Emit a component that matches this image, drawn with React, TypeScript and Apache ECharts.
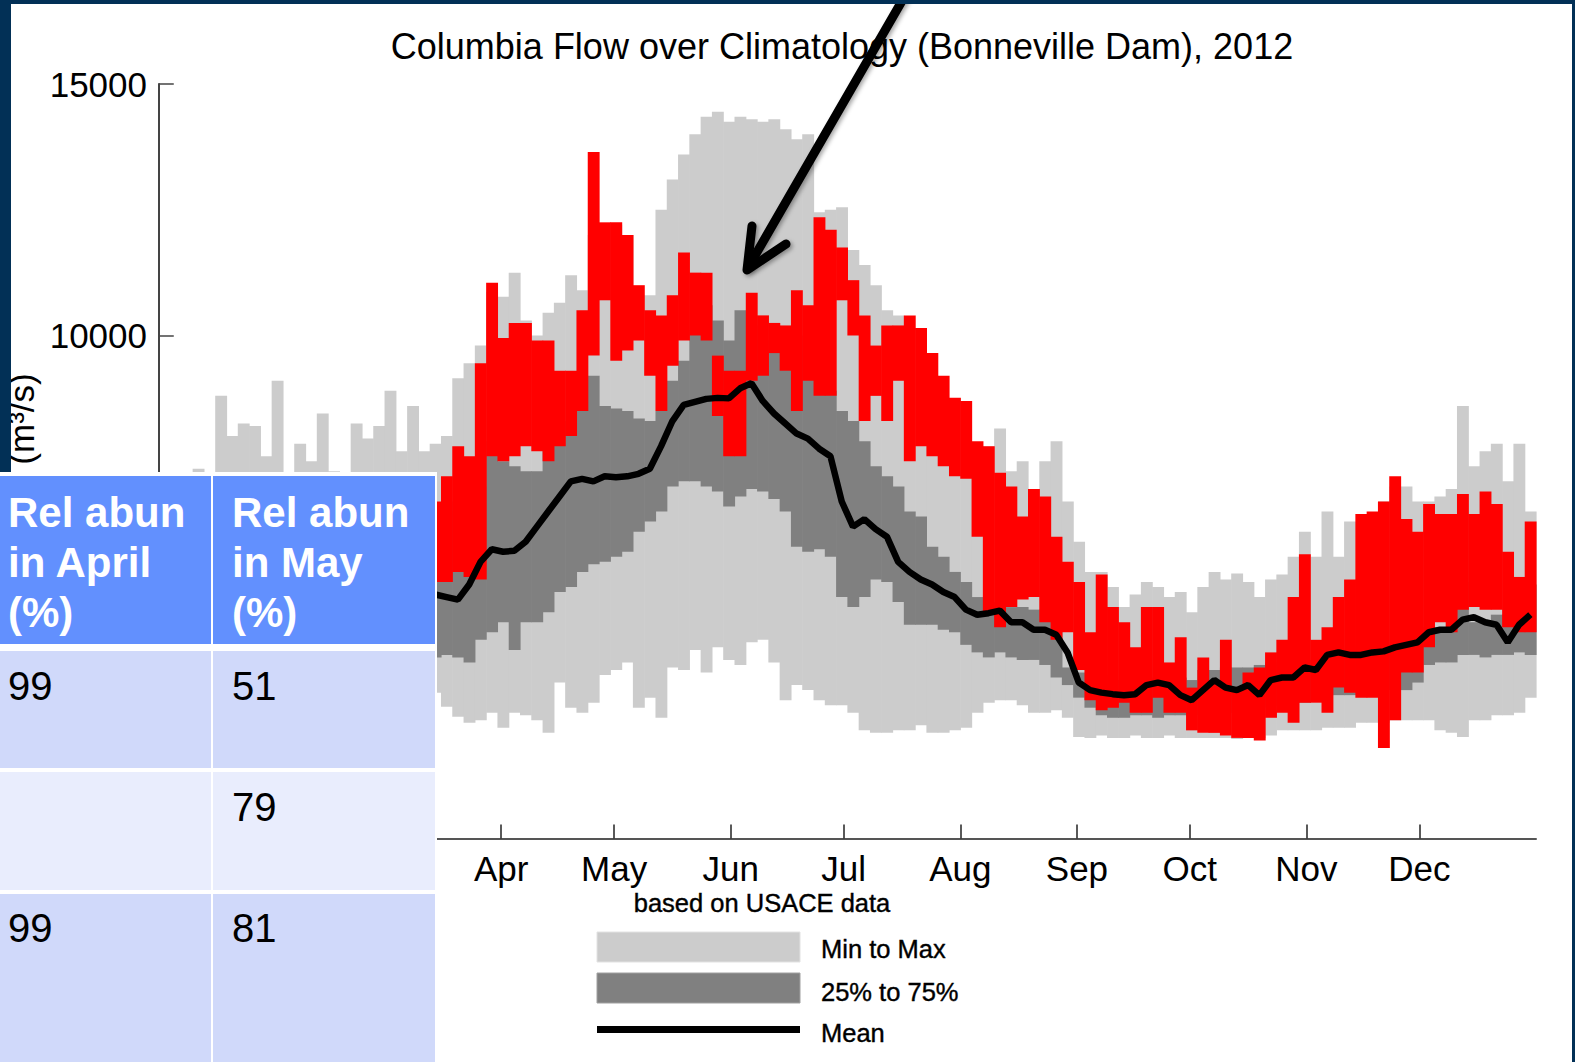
import React, { useEffect, useRef } from 'react';
import * as echarts from 'echarts';

// Daily flow binned into 3-day steps starting Jan 1 (2012, leap year). Values in m^3/s.
const BIN_DAYS = 3;
const MONTH_STARTS = [0, 31, 60, 91, 121, 152, 182, 213, 244, 274, 305, 335];
const MONTH_NAMES = ['Jan', 'Feb', 'Mar', 'Apr', 'May', 'Jun', 'Jul', 'Aug', 'Sep', 'Oct', 'Nov', 'Dec'];
const VISIBLE_MONTH_LABELS = [91, 121, 152, 182, 213, 244, 274, 305, 335];
const VISIBLE_Y_LABELS = [10000, 15000];

const MAX_FLOW = [
  6200, 6400, 6600, 7350, 7000, 8800, 8000, 8250, 8200, 7600,
  9100, 7200, 7850, 7500, 8450, 7300, 7150, 8250, 7950, 8200,
  8900, 7700, 8600, 7700, 7850, 8000, 9150, 9450, 9800, 10870,
  10770, 11250, 10300, 10000, 10450, 10650, 11200, 10900, 12000, 12200,
  12200, 12000, 10800, 10800, 12500, 13100, 13600, 14000, 14350, 14450,
  14250, 14350, 14300, 14250, 14300, 14100, 13900, 14000, 12450, 12500,
  12550, 11700, 11400, 11000, 10500, 10400, 9500, 10150, 9200, 8500,
  8750, 7900, 7400, 7800, 8150, 7300, 7500, 6950, 7500, 7900,
  6700, 5900, 5300, 5300, 5000, 4600, 4850, 5100, 5000, 4800,
  4900, 4500, 5000, 5300, 5150, 5270, 5100, 4800, 5150, 5250,
  5600, 6100, 5600, 6500, 5600, 6300, 6200, 6100, 6700, 7000,
  7000, 6700, 6700, 6800, 6950, 8600, 7400, 7700, 7850, 7100,
  7850, 6500,
];

const P75_FLOW = [
  5200, 5300, 5400, 5500, 5600, 5800, 5700, 5800, 5900, 5800,
  6000, 5900, 5800, 5900, 6000, 5900, 5800, 5900, 6000, 6100,
  6200, 6100, 6000, 6200, 6400, 6500, 6700, 6900, 7000, 7900,
  7500, 7400, 7300, 7300, 7800, 8200, 8300, 9100, 9200, 8600,
  8550, 8500, 8350, 8300, 8500, 9100, 9500, 10100, 10600, 10300,
  9900, 10500, 10200, 9900, 9700, 9800, 10000, 9700, 9800, 8900,
  8500, 8300, 7900, 7400, 7200, 7000, 6500, 6400, 5800, 5600,
  5300, 5100, 4800, 4700, 4700, 4600, 4600, 4550, 4550, 4500,
  3400, 3300, 3250, 3250, 3150, 3150, 3200, 3200, 3150, 3150,
  3200, 3150, 3350, 3350, 3400, 3400, 3400, 3450, 3500, 3500,
  3550, 3550, 3550, 3700, 3700, 3700, 3800, 3800, 3800, 3800,
  3800, 4100, 4200, 4200, 4150, 5100, 4300, 4300, 4450, 4450,
  4500, 5050,
];

const P25_FLOW = [
  3400, 3350, 3300, 3350, 3400, 3500, 3450, 3400, 3500, 3550,
  3500, 3450, 3500, 3600, 3550, 3500, 3450, 3500, 3550, 3600,
  3650, 3600, 3550, 3600, 3600, 3650, 3600, 3500, 3950, 4100,
  4300, 3750, 4300, 4300, 4500, 4900, 5000, 5300, 5450, 5500,
  5600, 5700, 6100, 6300, 6500, 7000, 7100, 7100, 7000, 6900,
  6600, 6800, 6950, 6900, 6750, 6500, 5800, 5700, 5750, 5600,
  4800, 4600, 4800, 5150, 5100, 4700, 4250, 4250, 4250, 4150,
  4100, 3850, 3700, 3600, 3700, 3600, 3550, 3550, 3450, 3200,
  3050, 2800, 2600, 2450, 2400, 2400, 2450, 2450, 2400, 2450,
  2450, 2450, 2500, 2500, 2500, 2500, 2550, 2600, 2650, 2700,
  2700, 2700, 2750, 2850, 2850, 2850, 2900, 2950, 2950, 2950,
  2950, 3100, 3450, 3500, 3500, 3650, 3650, 3600, 3650, 3650,
  3700, 3650,
];

const MIN_FLOW = [
  2900, 2800, 2750, 2700, 2650, 2700, 2800, 2750, 2700, 2650,
  2700, 2800, 2900, 2850, 2800, 2750, 2700, 2650, 2700, 2750,
  2800, 2850, 2800, 2750, 2900, 2620, 2420, 2300, 2350, 2500,
  2200, 2500, 2450, 2350, 2100, 3100, 2600, 2500, 2700, 3250,
  3350, 3500, 2600, 2800, 2400, 3400, 3350, 3750, 3300, 3800,
  3550, 3450, 3900, 3950, 3500, 2750, 3050, 2950, 2750, 2650,
  2650, 2500, 2150, 2100, 2100, 2150, 2150, 2250, 2100, 2100,
  2150, 2200, 2500, 2700, 2750, 2750, 2650, 2500, 2500, 2550,
  2400, 2020, 2000, 2050, 2000, 2000, 2050, 2000, 2000, 2050,
  2000, 2000, 2000, 2000, 2000, 1980, 2000, 2000, 2050, 2150,
  2150, 2150, 2150, 2200, 2200, 2200, 2300, 2300, 2300, 2350,
  2350, 2350, 2350, 2150, 2100, 2020, 2350, 2350, 2450, 2450,
  2500, 2800,
];

const MEAN_FLOW = [
  4300, 4350, 4400, 4450, 4500, 4600, 4550, 4600, 4650, 4600,
  4700, 4650, 4600, 4650, 4700, 4650, 4600, 4650, 4700, 4750,
  4800, 4750, 4700, 4800, 4850, 4800, 4750, 5050, 5500, 5750,
  5700, 5720, 5900, 6200, 6500, 6800, 7100, 7150, 7100, 7200,
  7180, 7200, 7250, 7350, 7800, 8300, 8620, 8680, 8740, 8760,
  8750, 8950, 9050, 8700, 8450, 8250, 8050, 7950, 7750, 7600,
  6700, 6200, 6350, 6150, 6000, 5500, 5300, 5150, 5050, 4900,
  4800, 4550, 4450, 4480, 4530, 4300, 4300, 4150, 4150, 4050,
  3700, 3100, 2950, 2900, 2870, 2850, 2870, 3050, 3100, 3050,
  2850, 2750, 2950, 3150, 3000, 2950, 3050, 2850, 3150, 3200,
  3200, 3400, 3350, 3650, 3700, 3650, 3650, 3700, 3720, 3800,
  3850, 3900, 4100, 4150, 4150, 4350, 4400, 4300, 4250, 3900,
  4250, 4450,
];

// 2012 flow: low and high of the daily values within each 3-day step
const FLOW_2012_LOW = [
  null, null, null, null, null, null, null, null, null, null,
  null, null, null, null, null, null, null, null, null, null,
  null, null, null, null, 5100, 5100, 5300, 5200, 5150, 7600,
  7500, 7600, 7800, 7700, 7500, 7800, 8000, 8500, 9600, 10700,
  9500, 9700, 9900, 9200, 8500, 9400, 9900, 10000, 9900, 8400,
  7600, 7600, 9100, 9200, 9650, 9300, 8500, 9100, 8800, 8800,
  10700, 10000, 8300, 8800, 8300, 9100, 7500, 7800, 7600, 7400,
  7200, 7150, 6000, 4500, 4200, 4600, 4750, 4800, 4300, 3950,
  4100, 3350, 2750, 2550, 2600, 2700, 2500, 2500, 2800, 2500,
  2500, 2150, 2100, 2100, 2050, 2000, 2000, 1950, 2400, 2500,
  2300, 2700, 2700, 2500, 3000, 2900, 2800, 2800, 1800, 2350,
  3300, 3300, 3800, 4300, 4100, 4550, 4600, 4550, 4550, 4200,
  4100, 4100,
];

const FLOW_2012_HIGH = [
  null, null, null, null, null, null, null, null, null, null,
  null, null, null, null, null, null, null, null, null, null,
  null, null, null, null, 6700, 7200, 7800, 7600, 9450, 11050,
  9950, 10250, 10250, 9900, 9900, 9300, 9300, 10500, 13650, 12250,
  12250, 12000, 11000, 10500, 10400, 10800, 11650, 11250, 11250, 9600,
  9300, 9300, 10850, 10400, 10250, 10200, 10900, 10600, 12350, 12100,
  11750, 11100, 10400, 9800, 10200, 10200, 10400, 10150, 9650, 9200,
  8760, 8700, 7900, 7800, 7270, 7000, 6400, 6950, 6800, 6000,
  5500, 5100, 4100, 5250, 4600, 4300, 3800, 4600, 4600, 3500,
  4000, 3000, 3600, 3150, 3950, 2950, 3300, 3400, 3700, 3950,
  4800, 5650, 3950, 4200, 4800, 5150, 6450, 6500, 6700, 7200,
  6350, 6100, 6650, 6450, 6450, 6850, 6450, 6900, 6650, 5700,
  5200, 6300,
];

const TABLE_HEADERS = ['Rel abun\nin April\n(%)', 'Rel abun\nin May\n(%)'];
const TABLE_ROWS = [
  ['99', '51'],
  ['', '79'],
  ['99', '81'],
];

const FONT = '"Liberation Sans", Arial, Helvetica, sans-serif';
const LIGHT = '#cccccc';
const DARK = '#808080';
const RED = '#ff0000';
const NAVY = '#023056';
const HEADER_BLUE = '#6290fe';
const ROW_A = '#d0d9fa';
const ROW_B = '#e9edfd';

function bandData(lo: (number | null)[], hi: (number | null)[]) {
  const out: number[][] = [];
  for (let i = 0; i < lo.length; i++) {
    if (lo[i] == null || hi[i] == null) continue;
    out.push([i * BIN_DAYS, lo[i] as number, hi[i] as number]);
  }
  return out;
}

function columnRenderer(color: string, minH: number) {
  return (params: any, api: any) => {
    const x0 = api.value(0);
    const lo = api.value(1);
    const hi = api.value(2);
    const a = api.coord([x0, hi]);
    const b = api.coord([x0 + BIN_DAYS, lo]);
    let y = a[1];
    let h = b[1] - a[1];
    if (h < minH) {
      y -= (minH - h) / 2;
      h = minH;
    }
    return {
      type: 'rect',
      shape: { x: a[0], y, width: b[0] - a[0] + 0.6, height: h },
      style: { fill: color },
    };
  };
}

export default function App() {
  const ref = useRef<HTMLDivElement>(null);

  useEffect(() => {
    if (!ref.current) return;
    const chart = echarts.init(ref.current, null, { renderer: 'svg' });

    const tableGraphics: any[] = [];
    tableGraphics.push({ type: 'rect', z: 100, shape: { x: 0, y: 472, width: 437, height: 590 }, style: { fill: '#ffffff' } });
    const colX = [0, 213];
    const colW = [211, 222];
    const rowY = [651, 772, 894];
    const rowH = [117, 118, 168];
    const rowColor = [ROW_A, ROW_B, ROW_A];
    const rowTextY = [686, 807, 928];
    for (let c = 0; c < 2; c++) {
      tableGraphics.push({ type: 'rect', z: 101, shape: { x: colX[c], y: 476, width: colW[c], height: 168 }, style: { fill: HEADER_BLUE } });
      tableGraphics.push({
        type: 'text', z: 102,
        style: {
          text: TABLE_HEADERS[c], x: colX[c] + (c === 0 ? 8 : 19), y: 562,
          fill: '#ffffff', fontSize: 42, fontWeight: 'bold', fontFamily: FONT,
          lineHeight: 50, align: 'left', verticalAlign: 'middle',
        },
      });
      for (let r = 0; r < TABLE_ROWS.length; r++) {
        tableGraphics.push({ type: 'rect', z: 101, shape: { x: colX[c], y: rowY[r], width: colW[c], height: rowH[r] }, style: { fill: rowColor[r] } });
        if (TABLE_ROWS[r][c]) {
          tableGraphics.push({
            type: 'text', z: 102,
            style: {
              text: TABLE_ROWS[r][c], x: colX[c] + (c === 0 ? 8 : 19), y: rowTextY[r],
              fill: '#000000', fontSize: 40, fontFamily: FONT, align: 'left', verticalAlign: 'middle',
            },
          });
        }
      }
    }

    const legendText = (text: string, x: number, y: number, align = 'left') => ({
      type: 'text', z: 100,
      style: { text, x, y, fill: '#000', fontSize: 25.5, fontFamily: FONT, align, verticalAlign: 'middle', stroke: '#000', lineWidth: 0.4 },
    });

    const arrowStyle = {
      stroke: '#000', fill: null, lineWidth: 9, lineCap: 'round', lineJoin: 'round',
      shadowBlur: 4, shadowColor: 'rgba(0,0,0,0.35)', shadowOffsetX: 2, shadowOffsetY: 2,
    };

    const graphic: any[] = [
      {
        type: 'text', z: 100,
        style: {
          text: 'Columbia Flow over Climatology (Bonneville Dam), 2012', x: 842, y: 46,
          fill: '#000', fontSize: 36, fontFamily: FONT, align: 'center', verticalAlign: 'middle',
        },
      },
      {
        type: 'text', z: 100, x: 21, y: 419, rotation: Math.PI / 2,
        style: { text: '(m³/s)', x: 0, y: 0, fill: '#000', fontSize: 35, fontFamily: FONT, align: 'center', verticalAlign: 'middle' },
      },
      legendText('based on USACE data', 762, 903, 'center'),
      { type: 'rect', z: 100, shape: { x: 597, y: 932, width: 203, height: 30 }, style: { fill: LIGHT, stroke: '#e2e2e2', lineWidth: 1 } },
      { type: 'rect', z: 100, shape: { x: 597, y: 973, width: 203, height: 30 }, style: { fill: DARK, stroke: '#a0a0a0', lineWidth: 1 } },
      { type: 'rect', z: 100, shape: { x: 597, y: 1026, width: 203, height: 7 }, style: { fill: '#000' } },
      legendText('Min to Max', 821, 949),
      legendText('25% to 75%', 821, 992),
      legendText('Mean', 821, 1033),
      { type: 'line', z: 105, shape: { x1: 906, y1: -6, x2: 749, y2: 266 }, style: arrowStyle },
      { type: 'polyline', z: 105, shape: { points: [[752, 226], [747, 270], [786, 244]] }, style: arrowStyle },
      ...tableGraphics,
      { type: 'rect', z: 110, shape: { x: 0, y: 0, width: 1575, height: 4 }, style: { fill: NAVY } },
      { type: 'rect', z: 110, shape: { x: 0, y: 0, width: 11, height: 472 }, style: { fill: NAVY } },
      { type: 'rect', z: 110, shape: { x: 1572, y: 0, width: 3, height: 1062 }, style: { fill: NAVY } },
    ];

    chart.setOption({
      animation: false,
      backgroundColor: '#ffffff',
      grid: { left: 155, top: 84, width: 1381, height: 754.5, containLabel: false, outerBoundsMode: 'none' },
      xAxis: {
        type: 'value', min: -1, max: 366,
        axisLine: { show: true, lineStyle: { color: '#555', width: 2 } },
        axisTick: { show: true, inside: true, length: 14, customValues: MONTH_STARTS, lineStyle: { color: '#222', width: 1.5 } },
        axisLabel: {
          customValues: VISIBLE_MONTH_LABELS, margin: 12, fontSize: 35, color: '#000', fontFamily: FONT,
          formatter: (v: number) => MONTH_NAMES[MONTH_STARTS.indexOf(Math.round(v))] || '',
        },
        splitLine: { show: false },
      },
      yAxis: {
        type: 'value', min: 0, max: 15000, interval: 5000,
        axisLine: { show: true, lineStyle: { color: '#444', width: 2 } },
        axisTick: { show: true, inside: true, length: 15, lineStyle: { color: '#444', width: 1.5 } },
        axisLabel: {
          customValues: VISIBLE_Y_LABELS, margin: 8, fontSize: 35, color: '#000', fontFamily: FONT,
          formatter: (v: number) => String(Math.round(v)),
        },
        splitLine: { show: false },
      },
      series: [
        {
          name: 'Min to Max', type: 'custom', renderItem: columnRenderer(LIGHT, 0),
          encode: { x: 0, y: [1, 2] }, data: bandData(MIN_FLOW, MAX_FLOW), z: 1,
        },
        {
          name: '25% to 75%', type: 'custom', renderItem: columnRenderer(DARK, 0),
          encode: { x: 0, y: [1, 2] }, data: bandData(P25_FLOW, P75_FLOW), z: 2,
        },
        {
          name: '2012', type: 'custom', renderItem: columnRenderer(RED, 3),
          encode: { x: 0, y: [1, 2] }, data: bandData(FLOW_2012_LOW, FLOW_2012_HIGH), z: 3,
        },
        {
          name: 'Mean', type: 'line', symbol: 'none', z: 4,
          lineStyle: { color: '#000', width: 6.5 },
          data: MEAN_FLOW.map((v, i) => [i * BIN_DAYS + BIN_DAYS / 2, v]),
        },
      ],
      graphic,
    });

    return () => chart.dispose();
  }, []);

  return (
    <div
      ref={ref}
      style={{ position: 'fixed', left: 0, top: 0, width: 1575, height: 1062, background: '#ffffff' }}
    />
  );
}
